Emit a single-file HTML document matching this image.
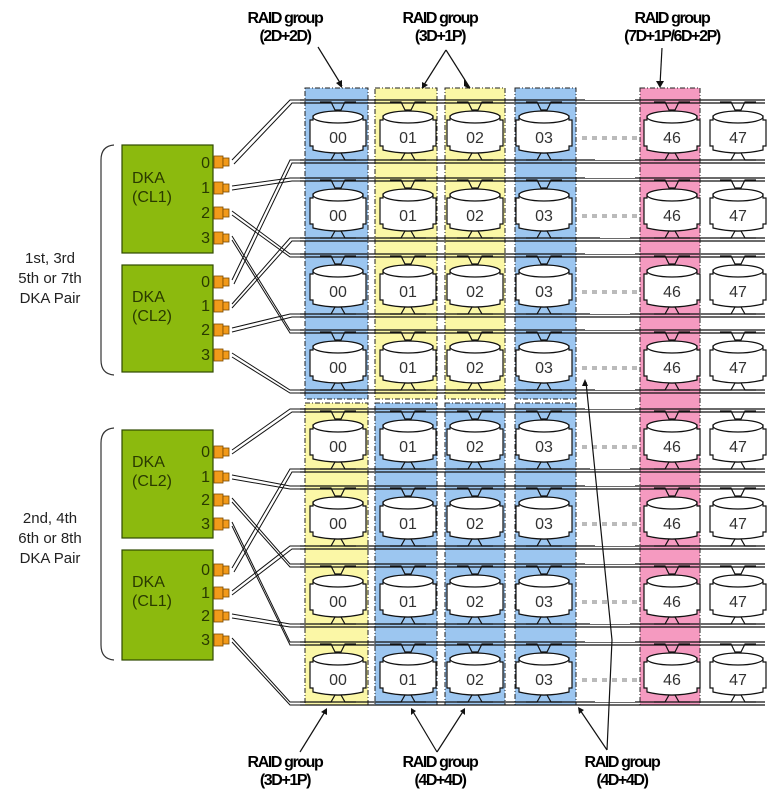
<!DOCTYPE html>
<html><head><meta charset="utf-8"><style>
html,body{margin:0;padding:0;background:#fff}
svg{display:block}
.lb{font-family:"Liberation Sans",sans-serif;font-weight:bold;font-size:16px;letter-spacing:-1.4px;fill:#000}
.dk{font-family:"Liberation Sans",sans-serif;font-size:16px;fill:#333}
.g{font-family:"Liberation Sans",sans-serif;font-size:16px;fill:#2a3a00}
.pl{font-family:"Liberation Sans",sans-serif;font-size:15px;fill:#222}
</style></head><body>
<svg width="770" height="796" viewBox="0 0 770 796" xmlns="http://www.w3.org/2000/svg">
<defs>
<g id="disk" fill="#fff" stroke="#111" stroke-width="1.2">
<path d="M-18,-30 L-7,-30 L-3,-22 L3,-22 L7,-30 L18,-30" fill="none"/>
<path d="M-18,28 L-7,28 L-3,21 L3,21 L7,28 L18,28" fill="none"/>
<path d="M-28,-12 L-25,-12 L-25,-16 L25,-16 L25,-12 L28,-12 L28,14 L25,14 L25,18 Q0,24 -25,18 L-25,14 L-28,14 Z"/>
<ellipse cx="0" cy="-15" rx="25" ry="6"/>
</g>
<g id="dots" fill="#bbb"><rect x="0" y="0" width="5" height="4"/><rect x="10" y="0" width="5" height="4"/><rect x="20" y="0" width="5" height="4"/><rect x="30" y="0" width="5" height="4"/><rect x="40" y="0" width="5" height="4"/><rect x="50" y="0" width="5" height="4"/></g>
<g id="port"><rect x="0" y="-6" width="9" height="12" fill="#f29a1a" stroke="#7a4a00" stroke-width="0.8"/><rect x="9" y="-4" width="6" height="8" fill="#f29a1a" stroke="#7a4a00" stroke-width="0.8"/></g>
</defs>

<g stroke="#222" stroke-width="1" stroke-dasharray="5,2,1,2">
<rect x="305" y="88" width="63" height="311" fill="#9cc6f0"/>
<rect x="375" y="88" width="62" height="311" fill="#fbf7a6"/>
<rect x="445" y="88" width="60" height="311" fill="#fbf7a6"/>
<rect x="515" y="88" width="61" height="311" fill="#9cc6f0"/>
<rect x="305" y="403" width="63" height="302" fill="#fbf7a6"/>
<rect x="375" y="403" width="62" height="302" fill="#9cc6f0"/>
<rect x="445" y="403" width="60" height="302" fill="#9cc6f0"/>
<rect x="515" y="403" width="61" height="302" fill="#9cc6f0"/>
<rect x="640" y="88" width="60" height="617" fill="#f59ac0"/>
</g>

<g stroke="#111" stroke-width="1.2" fill="none">
<path d="M300,100H765M300,103H765M300,160H765M300,163H765"/>
<path d="M300,178H765M300,181H765M300,238H765M300,241H765"/>
<path d="M300,254H765M300,257H765M300,314H765M300,317H765"/>
<path d="M300,330H765M300,333H765M300,390H765M300,393H765"/>
<path d="M300,409H765M300,412H765M300,469H765M300,472H765"/>
<path d="M300,486H765M300,489H765M300,546H765M300,549H765"/>
<path d="M300,564H765M300,567H765M300,624H765M300,627H765"/>
<path d="M300,642H765M300,645H765M300,702H765M300,705H765"/>
</g>
<g fill="#fff">
<rect x="585" y="98" width="50" height="2"/><rect x="595" y="158" width="40" height="2"/>
<rect x="585" y="176" width="50" height="2"/><rect x="600" y="236" width="30" height="2"/>
<rect x="585" y="252" width="50" height="2"/><rect x="590" y="312" width="40" height="2"/>
<rect x="585" y="328" width="50" height="2"/><rect x="595" y="388" width="40" height="2"/>
<rect x="585" y="407" width="50" height="2"/><rect x="590" y="467" width="40" height="2"/>
<rect x="585" y="484" width="50" height="2"/><rect x="595" y="544" width="40" height="2"/>
<rect x="585" y="562" width="50" height="2"/><rect x="590" y="622" width="40" height="2"/>
<rect x="585" y="640" width="50" height="2"/><rect x="595" y="700" width="40" height="2"/>
</g>

<g>
<use href="#disk" x="338" y="132"/><use href="#disk" x="408" y="132"/><use href="#disk" x="475" y="132"/><use href="#disk" x="544" y="132"/><use href="#disk" x="672" y="132"/><use href="#disk" x="738" y="132"/>
<use href="#disk" x="338" y="210"/><use href="#disk" x="408" y="210"/><use href="#disk" x="475" y="210"/><use href="#disk" x="544" y="210"/><use href="#disk" x="672" y="210"/><use href="#disk" x="738" y="210"/>
<use href="#disk" x="338" y="286"/><use href="#disk" x="408" y="286"/><use href="#disk" x="475" y="286"/><use href="#disk" x="544" y="286"/><use href="#disk" x="672" y="286"/><use href="#disk" x="738" y="286"/>
<use href="#disk" x="338" y="362"/><use href="#disk" x="408" y="362"/><use href="#disk" x="475" y="362"/><use href="#disk" x="544" y="362"/><use href="#disk" x="672" y="362"/><use href="#disk" x="738" y="362"/>
<use href="#disk" x="338" y="441"/><use href="#disk" x="408" y="441"/><use href="#disk" x="475" y="441"/><use href="#disk" x="544" y="441"/><use href="#disk" x="672" y="441"/><use href="#disk" x="738" y="441"/>
<use href="#disk" x="338" y="518"/><use href="#disk" x="408" y="518"/><use href="#disk" x="475" y="518"/><use href="#disk" x="544" y="518"/><use href="#disk" x="672" y="518"/><use href="#disk" x="738" y="518"/>
<use href="#disk" x="338" y="596"/><use href="#disk" x="408" y="596"/><use href="#disk" x="475" y="596"/><use href="#disk" x="544" y="596"/><use href="#disk" x="672" y="596"/><use href="#disk" x="738" y="596"/>
<use href="#disk" x="338" y="674"/><use href="#disk" x="408" y="674"/><use href="#disk" x="475" y="674"/><use href="#disk" x="544" y="674"/><use href="#disk" x="672" y="674"/><use href="#disk" x="738" y="674"/>
</g>
<g>
<use href="#dots" x="582" y="136"/><use href="#dots" x="582" y="214"/><use href="#dots" x="582" y="290"/><use href="#dots" x="582" y="366"/>
<use href="#dots" x="582" y="445"/><use href="#dots" x="582" y="522"/><use href="#dots" x="582" y="600"/><use href="#dots" x="582" y="678"/>
</g>
<g class="dk" text-anchor="middle">
<text x="338" y="143">00</text><text x="408" y="143">01</text><text x="475" y="143">02</text><text x="544" y="143">03</text><text x="672" y="143">46</text><text x="738" y="143">47</text>
<text x="338" y="221">00</text><text x="408" y="221">01</text><text x="475" y="221">02</text><text x="544" y="221">03</text><text x="672" y="221">46</text><text x="738" y="221">47</text>
<text x="338" y="297">00</text><text x="408" y="297">01</text><text x="475" y="297">02</text><text x="544" y="297">03</text><text x="672" y="297">46</text><text x="738" y="297">47</text>
<text x="338" y="373">00</text><text x="408" y="373">01</text><text x="475" y="373">02</text><text x="544" y="373">03</text><text x="672" y="373">46</text><text x="738" y="373">47</text>
<text x="338" y="452">00</text><text x="408" y="452">01</text><text x="475" y="452">02</text><text x="544" y="452">03</text><text x="672" y="452">46</text><text x="738" y="452">47</text>
<text x="338" y="529">00</text><text x="408" y="529">01</text><text x="475" y="529">02</text><text x="544" y="529">03</text><text x="672" y="529">46</text><text x="738" y="529">47</text>
<text x="338" y="607">00</text><text x="408" y="607">01</text><text x="475" y="607">02</text><text x="544" y="607">03</text><text x="672" y="607">46</text><text x="738" y="607">47</text>
<text x="338" y="685">00</text><text x="408" y="685">01</text><text x="475" y="685">02</text><text x="544" y="685">03</text><text x="672" y="685">46</text><text x="738" y="685">47</text>
</g>

<g stroke="#111" stroke-width="1" fill="none">
<path d="M232,160 L290,100 H300 M234,164 L292,103 H300"/>
<path d="M232,186 L290,178 H300 M232,190 L292,181 H300"/>
<path d="M232,211 L290,254 H300 M232,215 L290,257 H300"/>
<path d="M232,236 L290,330 H300 M232,240 L290,333 H300"/>
<path d="M232,280 L290,160 H300 M234,284 L292,163 H300"/>
<path d="M232,304 L290,238 H300 M232,308 L292,241 H300"/>
<path d="M232,328 L290,314 H300 M232,332 L292,317 H300"/>
<path d="M232,353 L290,390 H300 M232,357 L290,393 H300"/>
<path d="M232,450 L290,409 H300 M232,454 L292,412 H300"/>
<path d="M232,475 L290,486 H300 M232,479 L290,489 H300"/>
<path d="M232,498 L290,564 H300 M232,502 L290,567 H300"/>
<path d="M232,522 L290,642 H300 M232,526 L290,645 H300"/>
<path d="M232,568 L290,469 H300 M234,572 L292,472 H300"/>
<path d="M232,591 L290,546 H300 M232,595 L292,549 H300"/>
<path d="M232,614 L290,624 H300 M232,618 L290,627 H300"/>
<path d="M232,638 L290,702 H300 M232,642 L290,705 H300"/>
</g>

<g fill="#8cba0e" stroke="#2f4a00" stroke-width="1.2">
<rect x="122" y="145" width="91" height="108"/>
<rect x="122" y="265" width="91" height="107"/>
<rect x="122" y="430" width="91" height="108"/>
<rect x="122" y="550" width="91" height="110"/>
</g>
<g>
<use href="#port" x="214" y="162"/><use href="#port" x="214" y="188"/><use href="#port" x="214" y="213"/><use href="#port" x="214" y="238"/>
<use href="#port" x="214" y="282"/><use href="#port" x="214" y="306"/><use href="#port" x="214" y="330"/><use href="#port" x="214" y="355"/>
<use href="#port" x="214" y="452"/><use href="#port" x="214" y="477"/><use href="#port" x="214" y="500"/><use href="#port" x="214" y="524"/>
<use href="#port" x="214" y="570"/><use href="#port" x="214" y="593"/><use href="#port" x="214" y="616"/><use href="#port" x="214" y="640"/>
</g>
<g class="g">
<text x="132" y="183">DKA</text><text x="132" y="202">(CL1)</text>
<text x="132" y="302">DKA</text><text x="132" y="321">(CL2)</text>
<text x="132" y="467">DKA</text><text x="132" y="486">(CL2)</text>
<text x="132" y="587">DKA</text><text x="132" y="606">(CL1)</text>
<g text-anchor="end">
<text x="210" y="168">0</text><text x="210" y="193">1</text><text x="210" y="218">2</text><text x="210" y="243">3</text>
<text x="210" y="287">0</text><text x="210" y="311">1</text><text x="210" y="335">2</text><text x="210" y="360">3</text>
<text x="210" y="457">0</text><text x="210" y="482">1</text><text x="210" y="505">2</text><text x="210" y="529">3</text>
<text x="210" y="575">0</text><text x="210" y="598">1</text><text x="210" y="621">2</text><text x="210" y="645">3</text>
</g>
</g>

<g stroke="#333" stroke-width="1.2" fill="none">
<path d="M114,145 Q101,146 101,160 V360 Q101,374 114,375"/>
<path d="M114,428 Q101,429 101,443 V645 Q101,659 114,660"/>
</g>
<g class="pl" text-anchor="middle">
<text x="50" y="263">1st, 3rd</text><text x="50" y="283">5th or 7th</text><text x="50" y="303">DKA Pair</text>
<text x="50" y="523">2nd, 4th</text><text x="50" y="543">6th or 8th</text><text x="50" y="563">DKA Pair</text>
</g>

<g class="lb" text-anchor="middle">
<text x="285" y="23">RAID group</text><text x="285" y="41">(2D+2D)</text>
<text x="440" y="23">RAID group</text><text x="440" y="41">(3D+1P)</text>
<text x="672" y="23">RAID group</text><text x="672" y="41">(7D+1P/6D+2P)</text>
<text x="285" y="767">RAID group</text><text x="285" y="785">(3D+1P)</text>
<text x="440" y="767">RAID group</text><text x="440" y="785">(4D+4D)</text>
<text x="622" y="767">RAID group</text><text x="622" y="785">(4D+4D)</text>
</g>
<g stroke="#111" stroke-width="1.2" fill="none">
<path d="M318,47 L342,86"/><path d="M446,50 L422,88"/><path d="M446,50 L470,88"/><path d="M662,48 L660,85"/>
<path d="M300,752 L326,710"/><path d="M437,752 L412,710"/><path d="M437,752 L464,710"/><path d="M607,750 L580,710"/><path d="M607,750 L612,640 L586,382"/>
</g>
<g fill="#111">
<path d="M342,88 l-6,-5 l6,-3z"/><path d="M422,89 l0,-7 l6,3z"/><path d="M470,89 l-6,-3 l0,-7z"/>
<path d="M660,88 l-4,-7 h8z"/>
<path d="M327,708 l-6,4 l6,3z"/><path d="M411,708 l0,7 l5,-4z"/><path d="M465,708 l-5,3 l5,4z"/><path d="M578,707 l1,7 l5,-4z"/><path d="M585,379 l-3,7 l6,0z"/>
</g>
</svg>
</body></html>
